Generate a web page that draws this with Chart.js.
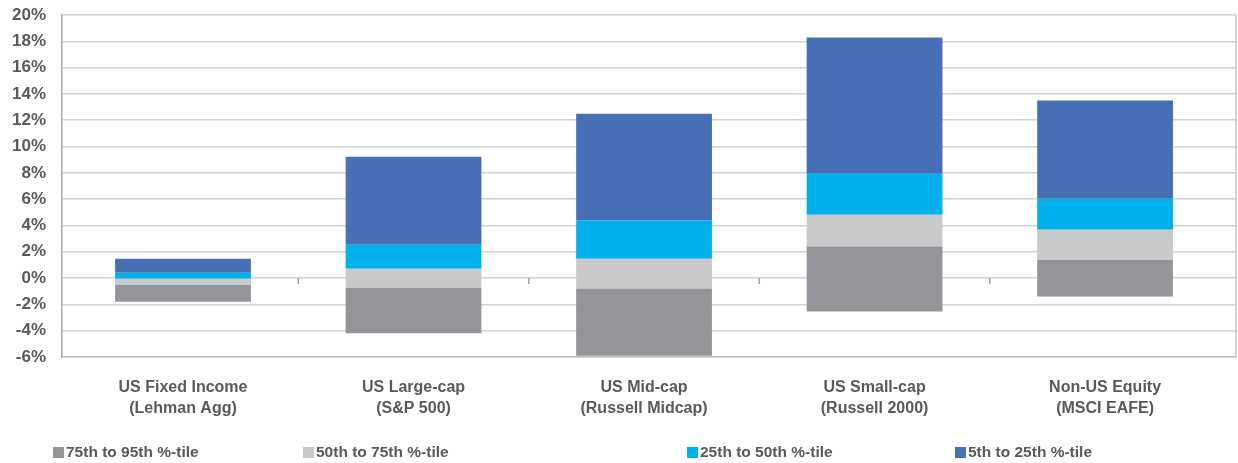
<!DOCTYPE html>
<html>
<head>
<meta charset="utf-8">
<script src="https://cdn.jsdelivr.net/npm/chart.js@4.4.0/dist/chart.umd.min.js"></script>
<style>
  html, body { margin: 0; padding: 0; background: #fff; }
</style>
</head>
<body>
<canvas id="chart" width="1238" height="463"></canvas>
<script>
// categories (two-line axis labels)
const categories = [
  ["US Fixed Income", "(Lehman Agg)"],
  ["US Large-cap", "(S&P 500)"],
  ["US Mid-cap", "(Russell Midcap)"],
  ["US Small-cap", "(Russell 2000)"],
  ["Non-US Equity", "(MSCI EAFE)"]
]

// percentile boundaries, in %
const p95 = [-1.8, -4.2, -5.9, -2.55, -1.4]
const p75 = [-0.5, -0.73, -0.8, 2.4, 1.4]
const p50 = [-0.05, 0.71, 1.47, 4.82, 3.68]
const p25 = [0.41, 2.54, 4.37, 7.94, 6.04]
const p5 = [1.47, 9.23, 12.5, 18.28, 13.5]

const seriesNames = ["75th to 95th %-tile", "50th to 75th %-tile", "25th to 50th %-tile", "5th to 25th %-tile"]
const seriesColors = ["#949599", "#c8c9cb", "#00b0ec", "#466fb5"]

const yMin = -6
const yMax = 20
const yStep = 2

const textColor = "#595959"
const fontFamily = "'Liberation Sans', Arial, sans-serif"

// floating bars: one [low, high] per category
const range = (lo, hi) => lo.map((v, i) => ({ x: i, y: [v, hi[i]] }))

const bands = [
  range(p95, p75),
  range(p75, p50),
  range(p50, p25),
  range(p25, p5)
]

// legend spots along the bottom, like the original
const legendX = [53, 303, 687, 955]

const bottomLegend = {
  id: "bottomLegend",
  afterDraw(chart) {
    const ctx = chart.ctx
    ctx.save()
    ctx.font = "bold 15.5px " + fontFamily
    ctx.textBaseline = "middle"
    ctx.textAlign = "left"
    chart.data.datasets.forEach((ds, i) => {
      ctx.fillStyle = ds.backgroundColor
      ctx.fillRect(legendX[i], 447, 11, 11)
      ctx.fillStyle = textColor
      ctx.fillText(ds.label, legendX[i] + 13, 452.5)
    })
    ctx.restore()
  }
}

// right frame edge + small category ticks on the 0% line
const frame = {
  id: "frame",
  afterDatasetsDraw(chart) {
    const { ctx, chartArea } = chart
    const x = chart.scales.x
    const y0 = chart.scales.y.getPixelForValue(0)
    ctx.save()
    ctx.strokeStyle = "#c6c6c6"
    ctx.lineWidth = 1.5
    ctx.beginPath()
    ctx.moveTo(chartArea.right, chartArea.top)
    ctx.lineTo(chartArea.right, chartArea.bottom)
    ctx.stroke()
    ctx.strokeStyle = "#a0a0a0"
    ctx.beginPath()
    for (let i = 1; i < categories.length; i++) {
      const px = x.getPixelForValue(i - 0.5)
      ctx.moveTo(px, y0)
      ctx.lineTo(px, y0 + 6)
    }
    ctx.stroke()
    ctx.restore()
  }
}

new Chart(document.getElementById("chart"), {
  type: "bar",
  data: {
    datasets: bands.map((d, i) => ({
      label: seriesNames[i],
      data: d,
      backgroundColor: seriesColors[i],
      borderWidth: 0,
      grouped: false,
      categoryPercentage: 1,
      barPercentage: 0.589
    }))
  },
  options: {
    responsive: false,
    animation: false,
    devicePixelRatio: 1,
    layout: { padding: { top: 15, right: 2, left: 0, bottom: 0 } },
    plugins: {
      legend: { display: false },
      tooltip: { enabled: false }
    },
    scales: {
      x: {
        type: "linear",
        min: -0.525,
        max: 4.568,
        offset: false,
        grid: { display: false },
        border: { display: true, color: "#bdbdbd", width: 1.5 },
        ticks: {
          stepSize: 1,
          color: textColor,
          font: { family: fontFamily, size: 16, weight: "bold", lineHeight: 1.3 },
          padding: 12,
          maxRotation: 0,
          autoSkip: false,
          callback: v => categories[v] || ""
        },
        afterBuildTicks(s) { s.ticks = s.ticks.filter(t => Number.isInteger(t.value)) },
        afterFit(s) { s.height = 106 }
      },
      y: {
        min: yMin,
        max: yMax,
        grid: { color: "#d2d2d2", lineWidth: 1.5, drawTicks: true, tickLength: 14, tickColor: "rgba(0,0,0,0)" },
        border: { display: true, color: "#a6a6a6", width: 1.5 },
        ticks: {
          stepSize: yStep,
          color: textColor,
          font: { family: fontFamily, size: 17, weight: "bold" },
          padding: 2,
          callback: v => v + "%"
        },
        afterFit(s) { s.width = 62 }
      }
    }
  },
  plugins: [frame, bottomLegend]
})
</script>
</body>
</html>
